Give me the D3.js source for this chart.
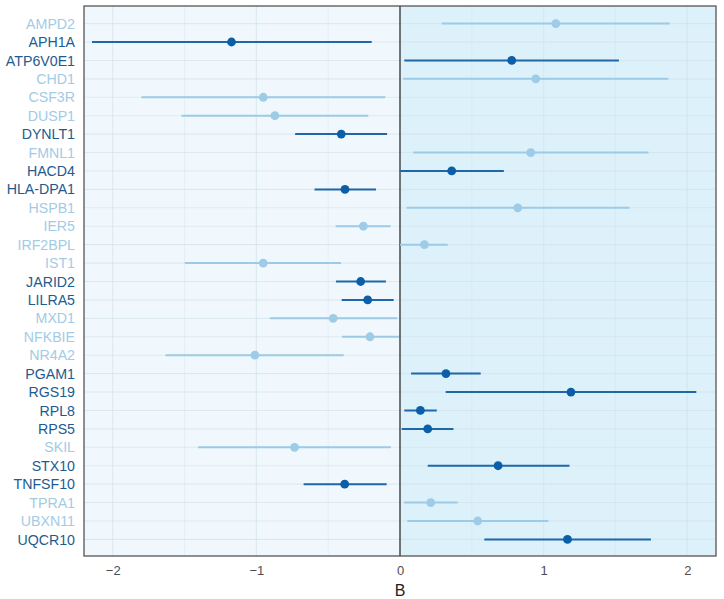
<!DOCTYPE html>
<html><head><meta charset="utf-8">
<script src="https://cdn.jsdelivr.net/npm/d3@7"></script>
<style>html,body{margin:0;padding:0;background:#fff;}</style>
</head><body>
<svg id="chart" width="724" height="599"></svg>
<script>
const genes = ["AMPD2","APH1A","ATP6V0E1","CHD1","CSF3R","DUSP1","DYNLT1","FMNL1","HACD4","HLA-DPA1","HSPB1","IER5","IRF2BPL","IST1","JARID2","LILRA5","MXD1","NFKBIE","NR4A2","PGAM1","RGS19","RPL8","RPS5","SKIL","STX10","TNFSF10","TPRA1","UBXN11","UQCR10"];
const estimate = [1.085,-1.173,0.778,0.945,-0.952,-0.871,-0.409,0.91,0.36,-0.383,0.82,-0.255,0.17,-0.952,-0.274,-0.225,-0.465,-0.209,-1.01,0.32,1.19,0.142,0.193,-0.734,0.683,-0.385,0.214,0.541,1.166];
const lower = [0.29,-2.144,0.03,0.023,-1.8,-1.521,-0.73,0.093,0.0,-0.595,0.046,-0.448,0.0,-1.498,-0.446,-0.406,-0.906,-0.404,-1.633,0.077,0.318,0.03,0.012,-1.405,0.193,-0.671,0.028,0.051,0.587];
const upper = [1.877,-0.197,1.524,1.868,-0.102,-0.221,-0.09,1.73,0.723,-0.167,1.598,-0.065,0.332,-0.411,-0.098,-0.044,-0.019,-0.007,-0.392,0.562,2.063,0.256,0.372,-0.063,1.18,-0.093,0.402,1.033,1.747];
const significant = [0,1,1,0,0,0,1,0,1,1,0,0,0,0,1,1,0,0,0,1,1,1,1,0,1,1,0,0,1];
const xTicks = [-2,-1,0,1,2];
const xMinor = [-1.5,-0.5,0.5,1.5];

const svg = d3.select("#chart");
const L = 84, R = 716, T = 6, B = 556;
const x = d3.scaleLinear().domain([-2.2, 2.2]).range([L, R]);
const y = d3.scalePoint().domain(genes).range([T + 1, B]).padding(0.9);

// backgrounds
svg.append("rect").attr("x", L).attr("y", T).attr("width", x(0) - L).attr("height", B - T).attr("fill", "#f1f8fd");
svg.append("rect").attr("x", x(0)).attr("y", T).attr("width", R - x(0)).attr("height", B - T).attr("fill", "#ddf1fb");

// gridlines
const grid = svg.append("g").attr("stroke", "#cfe0ea").attr("stroke-opacity", 0.6);
grid.selectAll(".gmin").data(xMinor).join("line")
  .attr("x1", d => x(d)).attr("x2", d => x(d)).attr("y1", T).attr("y2", B).attr("stroke-width", 0.6);
grid.selectAll(".gmaj").data(xTicks).join("line")
  .attr("x1", d => x(d)).attr("x2", d => x(d)).attr("y1", T).attr("y2", B).attr("stroke-width", 1.1);
grid.selectAll(".gy").data(genes).join("line")
  .attr("x1", L).attr("x2", R).attr("y1", d => y(d)).attr("y2", d => y(d)).attr("stroke-width", 1.1);

// zero line
svg.append("line").attr("x1", x(0)).attr("x2", x(0)).attr("y1", T).attr("y2", B)
  .attr("stroke", "#333").attr("stroke-width", 1.3);

const darkLine = "#1f67a8", lightLine = "#9dcae6";
const darkPt = "#0b5ea8", lightPt = "#9ecbe6";
const data = genes.map((g, i) => ({g, e: estimate[i], lo: lower[i], hi: upper[i], s: significant[i]}));

svg.append("g").selectAll("line").data(data).join("line")
  .attr("x1", d => x(d.lo)).attr("x2", d => x(d.hi))
  .attr("y1", d => y(d.g)).attr("y2", d => y(d.g))
  .attr("stroke", d => d.s ? darkLine : lightLine).attr("stroke-width", 2);
svg.append("g").selectAll("circle").data(data).join("circle")
  .attr("cx", d => x(d.e)).attr("cy", d => y(d.g)).attr("r", 4.4)
  .attr("fill", d => d.s ? darkPt : lightPt);

// border
svg.append("rect").attr("x", L).attr("y", T).attr("width", R - L).attr("height", B - T)
  .attr("fill", "none").attr("stroke", "#555").attr("stroke-width", 1.3);

// y labels
svg.append("g").selectAll("text").data(data).join("text")
  .attr("x", 75).attr("y", d => y(d.g)).attr("dy", "0.36em").attr("text-anchor", "end")
  .attr("font-family", "Liberation Sans, Arial, sans-serif").attr("font-size", 14.2)
  .attr("fill", d => d.s ? "#1d5b90" : "#a3cbe5").text(d => d.g);

// x axis labels
const xAxis = d3.axisBottom(x).tickValues(xTicks).tickSize(0).tickPadding(10)
  .tickFormat(d => d < 0 ? "\u2212" + Math.abs(d) : String(d));
const ax = svg.append("g").attr("transform", `translate(0,${B})`).call(xAxis);
ax.select(".domain").remove();
ax.selectAll("text").attr("font-family", "Liberation Sans, Arial, sans-serif").attr("font-size", 13).attr("fill", "#4d4d4d");

svg.append("text").attr("x", x(0)).attr("y", 596).attr("text-anchor", "middle")
  .attr("font-family", "Liberation Sans, Arial, sans-serif").attr("font-size", 16).attr("fill", "#222").text("B");
</script>
</body></html>
